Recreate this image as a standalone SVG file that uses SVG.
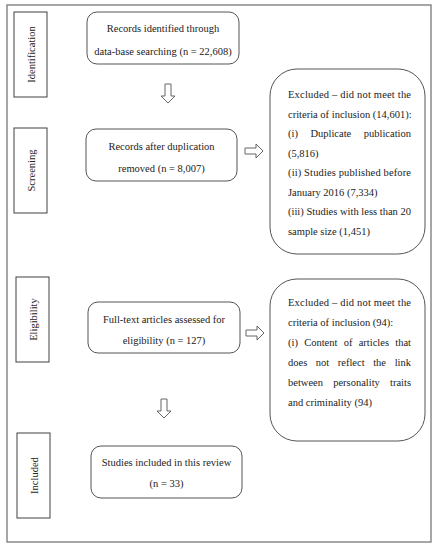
<svg xmlns="http://www.w3.org/2000/svg" width="437" height="550" viewBox="0 0 437 550">
<style>
.frame{fill:none;stroke:#808080;stroke-width:1.4}
.lab{fill:#fff;stroke:#404040;stroke-width:1}
.box{fill:#fff;stroke:#555;stroke-width:1}
.arr{fill:#fff;stroke:#555;stroke-width:0.9}
text{font-family:"Liberation Serif","DejaVu Serif",serif;font-size:10.5px;fill:#222}
.c{text-anchor:middle}
.e{text-anchor:end}
</style>
<rect width="437" height="550" fill="#fff"/>
<rect class="frame" x="7" y="5" width="424" height="537"/>
<g id="label-identification"><rect class="lab" x="14" y="12" width="33" height="85"/><text class="c" transform="translate(34.5,54.5) rotate(-90)">Identification</text></g>
<g id="label-screening"><rect class="lab" x="14" y="128" width="33" height="85"/><text class="c" transform="translate(34.5,170.5) rotate(-90)">Screening</text></g>
<g id="label-eligibility"><rect class="lab" x="16" y="277" width="33" height="85"/><text class="c" transform="translate(36.5,319.5) rotate(-90)">Eligibility</text></g>
<g id="label-included"><rect class="lab" x="17" y="433" width="33" height="85"/><text class="c" transform="translate(37.5,475.5) rotate(-90)">Included</text></g>
<g id="records-identified"><rect class="box" x="87" y="12" width="152" height="52" rx="10"/><text class="c" x="163" y="32">Records identified through</text><text class="c" x="163" y="55">data-base searching (n = 22,608)</text></g>
<g id="records-after-dup"><rect class="box" x="86" y="129" width="151" height="52" rx="10"/><text class="c" x="161.5" y="150">Records after duplication</text><text class="c" x="161.5" y="172">removed (n = 8,007)</text></g>
<g id="excluded-1"><rect class="box" x="270" y="69" width="155" height="185" rx="27"/>
<text x="288" y="98" textLength="123" lengthAdjust="spacing">Excluded – did not meet the</text>
<text x="288" y="117.5">criteria of inclusion (14,601):</text>
<text y="137"><tspan x="288">(i)</tspan><tspan x="310.4">Duplicate</tspan><tspan x="411" class="e">publication</tspan></text>
<text x="288" y="156.5">(5,816)</text>
<text x="288" y="176" textLength="123" lengthAdjust="spacing">(ii) Studies published before</text>
<text x="288" y="195.5">January 2016 (7,334)</text>
<text x="288" y="215" textLength="123" lengthAdjust="spacing">(iii) Studies with less than 20</text>
<text x="288" y="234.5">sample size (1,451)</text>
</g>
<g id="full-text"><rect class="box" x="88" y="302" width="152" height="51" rx="10"/><text class="c" x="164" y="323">Full-text articles assessed for</text><text class="c" x="164" y="344">eligibility (n = 127)</text></g>
<g id="excluded-2"><rect class="box" x="270" y="279" width="155" height="162" rx="27"/>
<text x="288" y="306" textLength="123" lengthAdjust="spacing">Excluded – did not meet the</text>
<text x="288" y="326">criteria of inclusion (94):</text>
<text y="346"><tspan x="288">(i)</tspan><tspan x="304.2">Content</tspan><tspan x="343.7">of</tspan><tspan x="358.7">articles</tspan><tspan x="411" class="e">that</tspan></text>
<text y="366"><tspan x="288">does</tspan><tspan x="315.8">not</tspan><tspan x="337.8">reflect</tspan><tspan x="373.2">the</tspan><tspan x="411" class="e">link</tspan></text>
<text y="386"><tspan x="288">between</tspan><tspan x="333.2">personality</tspan><tspan x="411" class="e">traits</tspan></text>
<text x="288" y="405.5">and criminality (94)</text>
</g>
<g id="studies-included"><rect class="box" x="91" y="446" width="151" height="52" rx="10"/><text class="c" x="166.5" y="466">Studies included in this review</text><text class="c" x="166.5" y="487">(n = 33)</text></g>
<g id="connectors">
<path class="arr" d="M165,84 H171 V96 H175 L168,103 L161,96 H165 Z"/>
<path class="arr" d="M245,148 H256 V144 L263,151 L256,158 V154 H245 Z"/>
<path class="arr" d="M246,330 H257 V326 L264,333 L257,340 V336 H246 Z"/>
<path class="arr" d="M161,399 H167 V411 H171 L164,418 L157,411 H161 Z"/>
</g>
</svg>
